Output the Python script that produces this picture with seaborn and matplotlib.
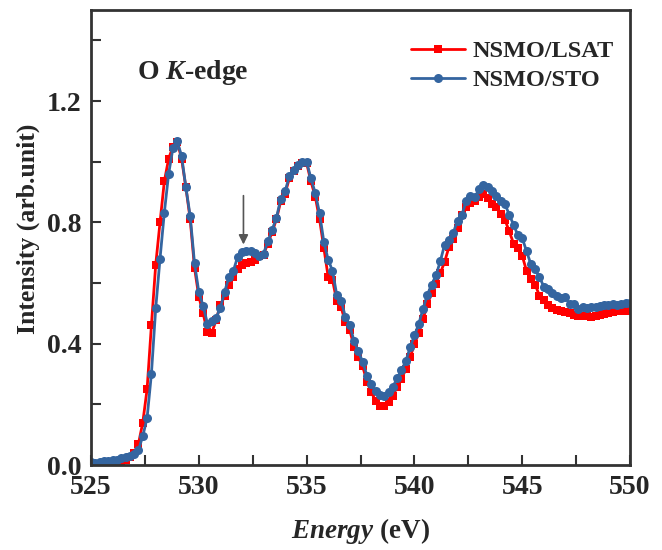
import numpy as np
import pandas as pd
import matplotlib
matplotlib.use("Agg")
import matplotlib.pyplot as plt
import seaborn as sns
from matplotlib.ticker import MultipleLocator

energy = [round(525.0 + 0.2 * i, 1) for i in range(126)]

lsat = [0.002, 0.000, 0.000, 0.000, 0.002, 0.003, 0.005, 0.010, 0.018, 0.028,
        0.040, 0.070, 0.140, 0.250, 0.460, 0.660, 0.800, 0.935, 1.010, 1.050,
        1.065, 1.010, 0.915, 0.810, 0.650, 0.555, 0.500, 0.437, 0.435, 0.478,
        0.528, 0.556, 0.592, 0.620, 0.645, 0.661, 0.667, 0.668, 0.675, 0.688,
        0.694, 0.730, 0.768, 0.810, 0.870, 0.895, 0.945, 0.968, 0.985, 0.995,
        0.995, 0.935, 0.885, 0.810, 0.715, 0.620, 0.610, 0.540, 0.520, 0.470,
        0.445, 0.390, 0.355, 0.325, 0.275, 0.240, 0.212, 0.193, 0.196, 0.208,
        0.228, 0.258, 0.285, 0.315, 0.355, 0.398, 0.435, 0.480, 0.530, 0.566,
        0.598, 0.632, 0.670, 0.718, 0.744, 0.780, 0.825, 0.852, 0.863, 0.872,
        0.885, 0.892, 0.880, 0.862, 0.850, 0.828, 0.808, 0.770, 0.730, 0.714,
        0.690, 0.640, 0.612, 0.595, 0.558, 0.545, 0.528, 0.516, 0.510, 0.507,
        0.506, 0.501, 0.494, 0.490, 0.490, 0.490, 0.488, 0.490, 0.494, 0.498,
        0.502, 0.506, 0.507, 0.507, 0.508, 0.510]

sto = [0.010, 0.008, 0.010, 0.012, 0.014, 0.015, 0.018, 0.022, 0.026, 0.030,
       0.036, 0.050, 0.095, 0.155, 0.300, 0.516, 0.680, 0.832, 0.960, 1.045,
       1.067, 1.019, 0.915, 0.820, 0.665, 0.570, 0.525, 0.466, 0.474, 0.485,
       0.518, 0.572, 0.620, 0.640, 0.686, 0.702, 0.706, 0.706, 0.700, 0.690,
       0.696, 0.738, 0.775, 0.815, 0.878, 0.902, 0.952, 0.973, 0.990, 1.000,
       1.000, 0.945, 0.897, 0.830, 0.735, 0.677, 0.640, 0.560, 0.542, 0.488,
       0.462, 0.408, 0.375, 0.340, 0.295, 0.266, 0.244, 0.230, 0.229, 0.241,
       0.258, 0.286, 0.313, 0.342, 0.388, 0.427, 0.465, 0.515, 0.562, 0.595,
       0.625, 0.672, 0.726, 0.742, 0.765, 0.806, 0.825, 0.870, 0.888, 0.882,
       0.910, 0.922, 0.916, 0.902, 0.888, 0.872, 0.860, 0.825, 0.792, 0.757,
       0.748, 0.705, 0.662, 0.645, 0.620, 0.588, 0.580, 0.566, 0.558, 0.552,
       0.555, 0.530, 0.530, 0.515, 0.520, 0.518, 0.521, 0.521, 0.524, 0.527,
       0.529, 0.531, 0.529, 0.531, 0.533, 0.534]

series_names = ["NSMO/LSAT", "NSMO/STO"]
arrow_energy = 532.07
arrow_from, arrow_to = 0.888, 0.727

sns.set_theme(style="white")
plt.rcParams["font.family"] = ["Liberation Serif", "DejaVu Serif"]
plt.rcParams["font.weight"] = "bold"
plt.rcParams["mathtext.fontset"] = "custom"
plt.rcParams["mathtext.bfit"] = "Liberation Serif:italic:bold"
plt.rcParams["mathtext.it"] = "Liberation Serif:italic:bold"
plt.rcParams["mathtext.rm"] = "Liberation Serif:bold"

df = pd.DataFrame({
    "Energy": energy * 2,
    "Intensity": lsat + sto,
    "Sample": [series_names[0]] * len(energy) + [series_names[1]] * len(energy),
})

fig = plt.figure(figsize=(6.62, 5.5), dpi=100)
ax = fig.add_axes([0.1375, 0.1545, 0.8142, 0.8273])

palette = {series_names[0]: "#ff0000", series_names[1]: "#3465a0"}
markers = {series_names[0]: "s", series_names[1]: "o"}

for name in series_names:
    sub = df[df["Sample"] == name]
    sns.lineplot(data=sub, x="Energy", y="Intensity", ax=ax,
                 color=palette[name], marker=markers[name],
                 markersize=6 if name == series_names[0] else 6.5,
                 markeredgewidth=0, linewidth=2, label=name)

ax.set_xlim(525, 550)
ax.set_ylim(0, 1.5)
ax.xaxis.set_major_locator(MultipleLocator(5))
ax.xaxis.set_minor_locator(MultipleLocator(2.5))
ax.yaxis.set_major_locator(MultipleLocator(0.4))
ax.yaxis.set_minor_locator(MultipleLocator(0.2))
ax.tick_params(axis="both", which="both", direction="in", length=7, width=1.5,
               color="#333333", bottom=True, left=True, top=False, right=False,
               labelsize=20, pad=7)
ax.set_yticks([0.0, 0.4, 0.8, 1.2])
ax.set_yticklabels(["0.0", "0.4", "0.8", "1.2"])
for lab in ax.get_xticklabels() + ax.get_yticklabels():
    lab.set_fontweight("bold")
for sp in ax.spines.values():
    sp.set_linewidth(2)
    sp.set_color("#333333")

ax.set_xlabel(r"$\mathit{Energy}$ (eV)", fontsize=19.5, fontweight="bold", labelpad=12)
ax.set_ylabel("Intensity (arb.unit)", fontsize=18.5, fontweight="bold")
ax.yaxis.set_label_coords(-0.094, 0.52)

ax.text(0.085, 0.862, r"O $\mathit{K}$-edge", transform=ax.transAxes,
        fontsize=20, fontweight="bold", va="center", ha="left")

ax.annotate("", xy=(arrow_energy, arrow_to), xytext=(arrow_energy, arrow_from),
            arrowprops=dict(arrowstyle="-|>", color="#555555", lw=1.2,
                            mutation_scale=14, shrinkA=0, shrinkB=0))

leg = ax.legend(loc="upper right", bbox_to_anchor=(0.996, 0.966), frameon=False,
                handlelength=2.2, handletextpad=0.3, borderaxespad=0.2,
                labelspacing=0.3, prop={"weight": "bold", "size": 17.5})

fig.savefig("out.png", dpi=100)
